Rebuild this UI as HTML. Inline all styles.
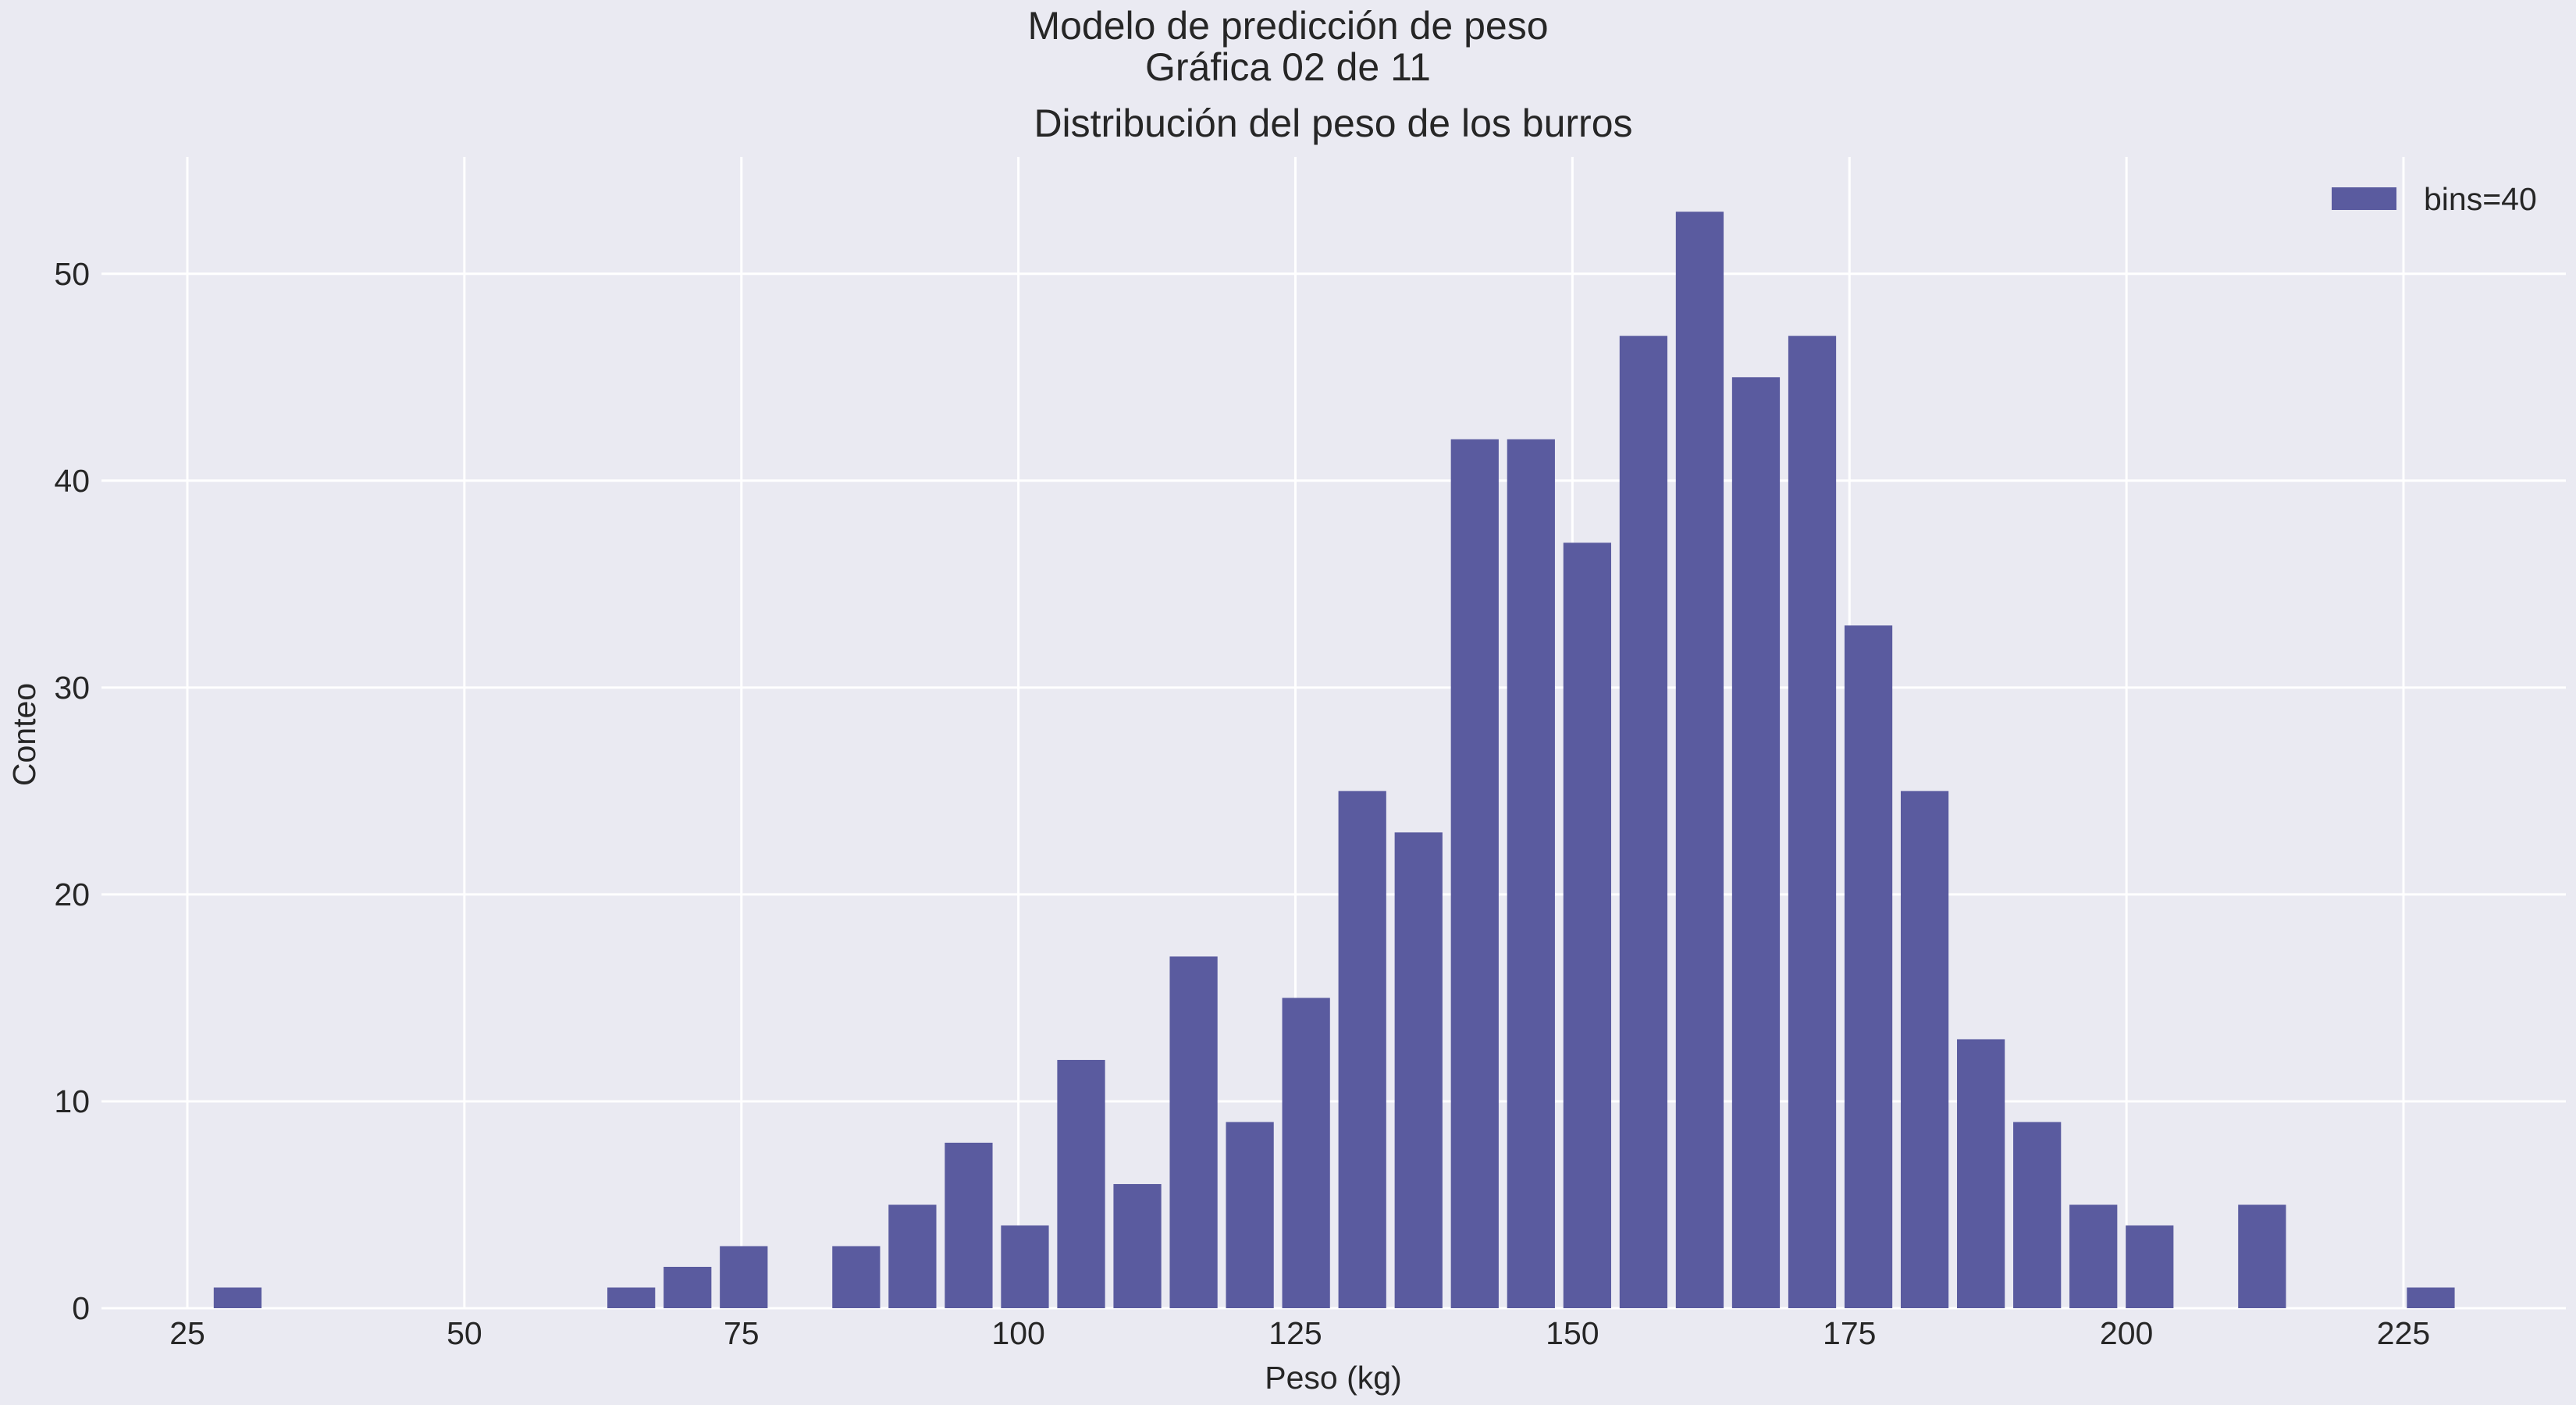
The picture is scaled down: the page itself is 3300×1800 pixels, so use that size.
<!DOCTYPE html>
<html><head><meta charset="utf-8"><style>
html,body{margin:0;padding:0;background:#eaeaf2;}
svg{display:block;font-family:"Liberation Sans",sans-serif;}
</style></head><body>
<svg id="chart" width="3300" height="1800" viewBox="0 0 3300 1800" xmlns="http://www.w3.org/2000/svg">
<rect width="3300" height="1800" fill="#eaeaf2"/>
<text x="1650" y="50" text-anchor="middle" font-size="50" fill="#262626">Modelo de predicción de peso</text>
<text x="1650" y="103" text-anchor="middle" font-size="50" fill="#262626">Gráfica 02 de 11</text>
<text x="1708" y="175" text-anchor="middle" font-size="50" fill="#262626">Distribución del peso de los burros</text>
<g id="grid"></g>
<g id="bars"></g>
<g id="ticks"></g>
<text x="1708" y="1779" text-anchor="middle" font-size="41" fill="#262626">Peso (kg)</text>
<text transform="translate(45,941) rotate(-90)" text-anchor="middle" font-size="41" fill="#262626">Conteo</text>
<g>
<rect x="2987" y="240" width="83" height="29" fill="#5a5b9f"/>
<text x="3105" y="269" font-size="41" fill="#262626">bins=40</text>
</g>
</svg>
<script>
const counts = [1,0,0,0,0,0,0,1,2,3,0,3,5,8,4,12,6,17,9,15,25,23,42,42,37,47,53,45,47,33,25,13,9,5,4,0,5,0,0,1];
const binStart = 27.0;
const binWidth = 5.075;
const xTicks = [25,50,75,100,125,150,175,200,225];
const yTicks = [0,10,20,30,40,50];

const L=130,R=3287,T=201,B=1676;
const yMin=0,yMax=55.65;
function sx(v){return 240+(v-25)*(3079-240)/200;}
function sy(v){return B-(v-yMin)*(B-T)/(yMax-yMin);}
const NS="http://www.w3.org/2000/svg";
const grid=document.getElementById('grid');
const bars=document.getElementById('bars');
const ticks=document.getElementById('ticks');
function mk(tag,attrs,parent){const e=document.createElementNS(NS,tag);for(const k in attrs)e.setAttribute(k,attrs[k]);parent.appendChild(e);return e;}
xTicks.forEach(t=>{
  const l=mk('line',{x1:sx(t),x2:sx(t),y1:T,y2:B,stroke:'#ffffff','stroke-width':3},grid);
  
  
  const tx=mk('text',{x:sx(t),y:1722,'text-anchor':'middle','font-size':41,fill:'#262626'},ticks);
  tx.textContent=t;
  
  
});
yTicks.forEach(t=>{
  const l=mk('line',{x1:L,x2:R,y1:sy(t),y2:sy(t),stroke:'#ffffff','stroke-width':3},grid);
  
  
  const tx=mk('text',{x:115,y:sy(t)+14,'text-anchor':'end','font-size':41,fill:'#262626'},ticks);
  tx.textContent=t;
  
  
});
counts.forEach((c,i)=>{
  if(c<=0)return;
  const x0=binStart+i*binWidth+binWidth*0.075;
  const x1=x0+binWidth*0.85;
  const r=mk('rect',{x:sx(x0),y:sy(c),width:sx(x1)-sx(x0),height:sy(0)-sy(c),fill:'#5a5b9f'},bars);
  
  
});
</script>
</body></html>
